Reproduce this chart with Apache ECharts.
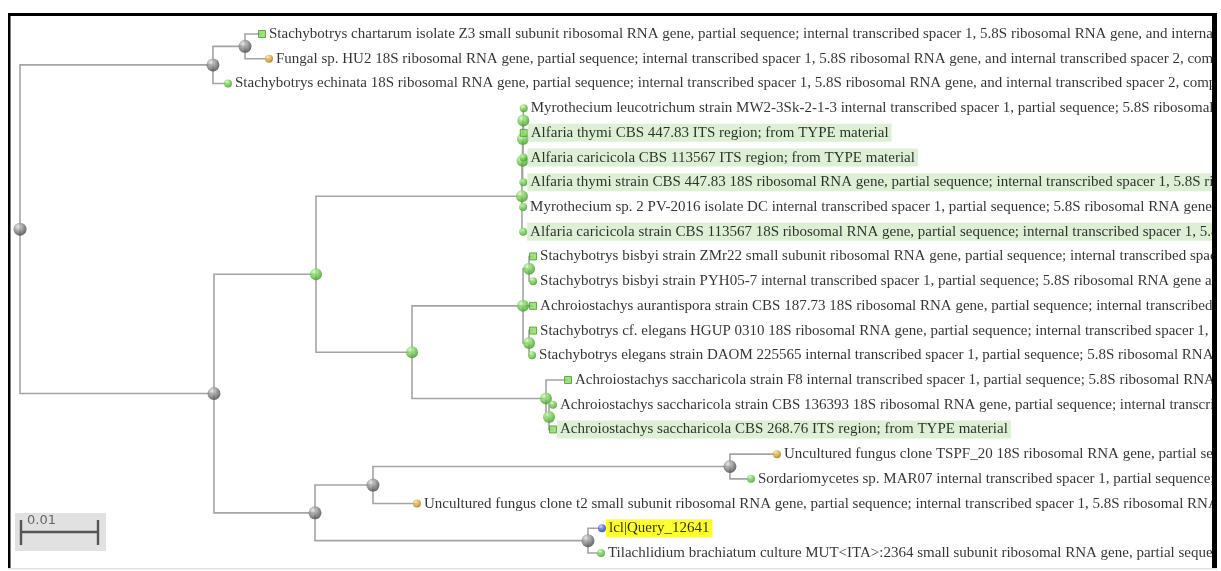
<!DOCTYPE html>
<html>
<head>
<meta charset="utf-8">
<script src="https://cdn.jsdelivr.net/npm/echarts@6/dist/echarts.min.js"></script>
<style>
  html, body { margin: 0; padding: 0; background: #ffffff; }
  #chart { width: 1221px; height: 571px; }
</style>
</head>
<body>
<div id="chart"></div>
<script>
// Phylogenetic tree, nodes listed depth-first; each node points at its parent.
const nodeParents = [-1, 0, 1, 2, 2, 1, 0, 6, 7, 8, 9, 10, 11, 11, 10, 9, 8, 8, 7, 18,
  19, 20, 20, 19, 19, 24, 24, 18, 27, 27, 29, 29, 6, 32, 33, 34, 34, 33, 32, 38, 38];

// Branch length from each node to its parent (substitutions per site).
const branchLengths = [0, 0.02506, 0.00416, 0.00221, 0.00312, 0.00195, 0.02519, 0.01325,
  0.02675, 0.00008, 0.00005, 0.00005, 0.00005, 0.00005, 0.00008, 0.00010, 0.00015, 0.00015,
  0.01247, 0.01442, 0.00078, 0.00052, 0.00052, 0.00130, 0.00078, 0.00052, 0.00039, 0.01740,
  0.00286, 0.00039, 0.00052, 0.00052, 0.01312, 0.00753, 0.04636, 0.00610, 0.00273, 0.00571,
  0.03545, 0.00182, 0.00169];

// Sequence titles for the leaves ('' marks an internal node).
const nodeLabels = [
  '', '', '',
  'Stachybotrys chartarum isolate Z3 small subunit ribosomal RNA gene, partial sequence; internal transcribed spacer 1, 5.8S ribosomal RNA gene, and internal transcribed spacer 2, complete sequence; and large subunit ribosomal RNA gene, partial sequence',
  'Fungal sp. HU2 18S ribosomal RNA gene, partial sequence; internal transcribed spacer 1, 5.8S ribosomal RNA gene, and internal transcribed spacer 2, complete sequence; and 28S ribosomal RNA gene, partial sequence',
  'Stachybotrys echinata 18S ribosomal RNA gene, partial sequence; internal transcribed spacer 1, 5.8S ribosomal RNA gene, and internal transcribed spacer 2, complete sequence; and 28S ribosomal RNA gene, partial sequence',
  '', '', '', '', '', '',
  'Myrothecium leucotrichum strain MW2-3Sk-2-1-3 internal transcribed spacer 1, partial sequence; 5.8S ribosomal RNA gene and internal transcribed spacer 2, complete sequence',
  'Alfaria thymi CBS 447.83 ITS region; from TYPE material',
  'Alfaria caricicola CBS 113567 ITS region; from TYPE material',
  'Alfaria thymi strain CBS 447.83 18S ribosomal RNA gene, partial sequence; internal transcribed spacer 1, 5.8S ribosomal RNA gene, and internal transcribed spacer 2, complete sequence',
  'Myrothecium sp. 2 PV-2016 isolate DC internal transcribed spacer 1, partial sequence; 5.8S ribosomal RNA gene and internal transcribed spacer 2, complete sequence',
  'Alfaria caricicola strain CBS 113567 18S ribosomal RNA gene, partial sequence; internal transcribed spacer 1, 5.8S ribosomal RNA gene, and internal transcribed spacer 2, complete sequence',
  '', '', '',
  'Stachybotrys bisbyi strain ZMr22 small subunit ribosomal RNA gene, partial sequence; internal transcribed spacer 1, 5.8S ribosomal RNA gene, and internal transcribed spacer 2, complete sequence',
  'Stachybotrys bisbyi strain PYH05-7 internal transcribed spacer 1, partial sequence; 5.8S ribosomal RNA gene and internal transcribed spacer 2, complete sequence',
  'Achroiostachys aurantispora strain CBS 187.73 18S ribosomal RNA gene, partial sequence; internal transcribed spacer 1, 5.8S ribosomal RNA gene, and internal transcribed spacer 2, complete sequence',
  '',
  'Stachybotrys cf. elegans HGUP 0310 18S ribosomal RNA gene, partial sequence; internal transcribed spacer 1, 5.8S ribosomal RNA gene, and internal transcribed spacer 2, complete sequence',
  'Stachybotrys elegans strain DAOM 225565 internal transcribed spacer 1, partial sequence; 5.8S ribosomal RNA gene and internal transcribed spacer 2, complete sequence',
  '',
  'Achroiostachys saccharicola strain F8 internal transcribed spacer 1, partial sequence; 5.8S ribosomal RNA gene and internal transcribed spacer 2, complete sequence',
  '',
  'Achroiostachys saccharicola strain CBS 136393 18S ribosomal RNA gene, partial sequence; internal transcribed spacer 1, 5.8S ribosomal RNA gene, and internal transcribed spacer 2, complete sequence',
  'Achroiostachys saccharicola CBS 268.76 ITS region; from TYPE material',
  '', '', '',
  'Uncultured fungus clone TSPF_20 18S ribosomal RNA gene, partial sequence; internal transcribed spacer 1, 5.8S ribosomal RNA gene, and internal transcribed spacer 2, complete sequence',
  'Sordariomycetes sp. MAR07 internal transcribed spacer 1, partial sequence; 5.8S ribosomal RNA gene and internal transcribed spacer 2, complete sequence',
  'Uncultured fungus clone t2 small subunit ribosomal RNA gene, partial sequence; internal transcribed spacer 1, 5.8S ribosomal RNA gene, and internal transcribed spacer 2, complete sequence',
  '',
  'lcl|Query_12641',
  'Tilachlidium brachiatum culture MUT<ITA>:2364 small subunit ribosomal RNA gene, partial sequence; internal transcribed spacer 1, 5.8S ribosomal RNA gene, and internal transcribed spacer 2, complete sequence'
];

// Marker kind per node: g = grey node, n = green node, s = green square leaf,
// c = green round leaf, o = gold leaf, b = blue leaf.
const nodeKinds = ['g', 'g', 'g', 's', 'o', 'c', 'g', 'n', 'n', 'n', 'n', 'n', 'c', 's', 'c', 'c',
  'c', 'c', 'n', 'n', 'n', 's', 'c', 's', 'n', 's', 'c', 'n', 's', 'n', 'c', 's', 'g', 'g', 'g',
  'o', 'c', 'o', 'g', 'b', 'c'];

// Label highlight per node: t = type material (green), q = query (yellow).
const nodeHighlights = ['', '', '', '', '', '', '', '', '', '', '', '', '', 't', 't', 't', '', 't',
  '', '', '', '', '', '', '', '', '', '', '', '', '', 't', '', '', '', '', '', '', '', 'q', ''];

const scaleBarLength = 0.01;
const scaleBarText = '0.01';

// ---- layout: x = distance from root, y = leaf order (parents at mid of first/last child)
const n = nodeParents.length;
const children = Array.from({ length: n }, () => []);
nodeParents.forEach((p, i) => { if (p >= 0) children[p].push(i); });
const depth = new Array(n).fill(0);
for (let i = 1; i < n; i++) depth[i] = depth[nodeParents[i]] + branchLengths[i];
const row = new Array(n).fill(0);
let leafCount = 0;
function place(i) {
  const c = children[i];
  if (!c.length) { row[i] = leafCount++; return; }
  c.forEach(place);
  row[i] = (row[c[0]] + row[c[c.length - 1]]) / 2;
}
place(0);

const branchData = [];
for (let i = 1; i < n; i++) {
  const p = nodeParents[i];
  branchData.push([depth[p], row[p], depth[i], row[i]]);
}

function sphere(light, mid, dark) {
  return {
    type: 'radial', x: 0.36, y: 0.3, r: 0.75,
    colorStops: [{ offset: 0, color: light }, { offset: 0.5, color: mid }, { offset: 1, color: dark }]
  };
}
const kindStyles = {
  g: { symbol: 'circle', size: 13, color: sphere('#e4e4e4', '#868686', '#3c3c3c'), border: 'rgba(0,0,0,0)' },
  n: { symbol: 'circle', size: 12, color: sphere('#d4f8bf', '#72cc50', '#37921f'), border: 'rgba(0,0,0,0)' },
  s: { symbol: 'rect', size: 7, color: '#86dc60', border: '#46982b' },
  c: { symbol: 'circle', size: 8, color: sphere('#d4f8bf', '#72cc50', '#37921f'), border: 'rgba(0,0,0,0)' },
  o: { symbol: 'circle', size: 8, color: sphere('#fbe6a8', '#d8a935', '#94700c'), border: 'rgba(0,0,0,0)' },
  b: { symbol: 'circle', size: 8, color: sphere('#c8d2ff', '#4a60d4', '#22318a'), border: 'rgba(0,0,0,0)' }
};
const highlightColors = { t: '#d4ecca', q: '#ffff00' };

const nodeData = [];
for (let i = 0; i < n; i++) {
  const k = kindStyles[nodeKinds[i]];
  const item = {
    value: [depth[i], row[i]],
    symbol: k.symbol,
    symbolSize: k.size,
    itemStyle: { color: k.color, borderColor: k.border, borderWidth: k.symbol === 'rect' ? 1 : 0 },
    z: nodeLabels[i] ? 3 : 4
  };
  if (nodeLabels[i]) {
    const h = nodeHighlights[i];
    item.label = {
      show: true,
      position: 'right',
      distance: 0,
      formatter: nodeLabels[i],
      fontFamily: 'Liberation Serif',
      fontSize: 15,
      color: '#000000',
      lineHeight: 16,
      padding: [1, 3, 1, 3],
      backgroundColor: h ? highlightColors[h] : 'transparent'
    };
  }
  nodeData.push(item);
}

const chart = echarts.init(document.getElementById('chart'), null, { renderer: 'canvas' });
chart.setOption({
  animation: false,
  backgroundColor: '#ffffff',
  grid: { left: 20, top: 34, width: 1155, height: 519, containLabel: false },
  xAxis: { type: 'value', min: 0, max: 0.15, show: false },
  yAxis: { type: 'value', min: 0, max: leafCount - 1, inverse: true, show: false },
  series: [
    {
      type: 'custom',
      silent: true,
      clip: false,
      z: 1,
      encode: { x: [0, 2], y: [1, 3] },
      data: branchData,
      renderItem: function (params, api) {
        const a = api.coord([api.value(0), api.value(1)]);
        const b = api.coord([api.value(0), api.value(3)]);
        const c = api.coord([api.value(2), api.value(3)]);
        return {
          type: 'polyline',
          shape: { points: [a, b, c] },
          style: { stroke: '#a4a4a4', lineWidth: 1.6, fill: null }
        };
      }
    },
    {
      type: 'scatter',
      silent: true,
      clip: false,
      z: 3,
      data: nodeData
    },
    {
      // scale bar, its length taken from the x scale
      type: 'custom',
      silent: true,
      clip: false,
      z: 5,
      data: [[scaleBarLength]],
      renderItem: function (params, api) {
        const len = api.size([api.value(0), 0])[0];
        const x0 = 21, y0 = 532;
        return {
          type: 'group',
          children: [
            { type: 'rect', shape: { x: 15, y: 513, width: 91, height: 38 }, style: { fill: '#e1e1e1' } },
            { type: 'line', shape: { x1: x0, y1: y0, x2: x0 + len, y2: y0 }, style: { stroke: '#555555', lineWidth: 2.4 } },
            { type: 'line', shape: { x1: x0, y1: 520, x2: x0, y2: 545 }, style: { stroke: '#555555', lineWidth: 2.4 } },
            { type: 'line', shape: { x1: x0 + len, y1: 520, x2: x0 + len, y2: 545 }, style: { stroke: '#555555', lineWidth: 2.4 } },
            { type: 'text', x: 27, y: 514, style: { text: scaleBarText, fill: '#666666', font: '13px "DejaVu Sans"' } }
          ]
        };
      }
    }
  ],
  graphic: [
    { type: 'rect', z: 100, shape: { x: 1217, y: 0, width: 10, height: 571 }, style: { fill: '#ffffff' } },
    { type: 'rect', z: 100, shape: { x: 1212, y: 13, width: 5, height: 556 }, style: { fill: '#000000' } },
    { type: 'rect', z: 100, shape: { x: 8, y: 13, width: 1209, height: 3 }, style: { fill: '#000000' } },
    { type: 'rect', z: 100, shape: { x: 8, y: 13, width: 2.5, height: 556 }, style: { fill: '#000000' } },
    { type: 'rect', z: 100, shape: { x: 8, y: 568, width: 1209, height: 1.5 }, style: { fill: '#e2e2e2' } }
  ]
});
</script>
</body>
</html>
